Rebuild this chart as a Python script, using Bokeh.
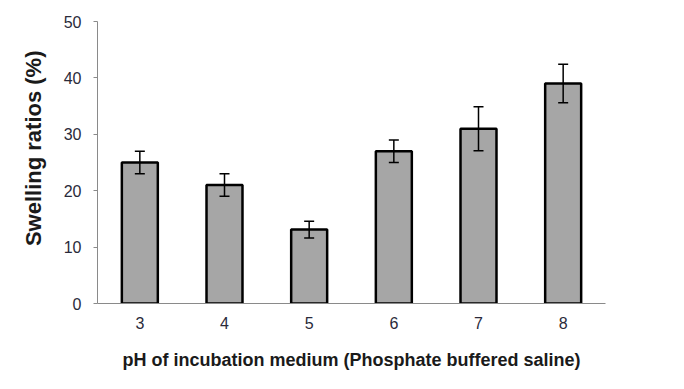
from bokeh.plotting import figure
from bokeh.models import ColumnDataSource, Whisker, TeeHead, Range1d, FixedTicker, Title
from bokeh.embed import file_html
from bokeh.resources import INLINE

ph_levels = ["3", "4", "5", "6", "7", "8"]
swelling = [25.0, 21.0, 13.1, 27.0, 31.0, 39.0]
err = [2.0, 2.0, 1.5, 2.0, 3.9, 3.4]
y_ticks = [0, 10, 20, 30, 40, 50]
y_title = "Swelling ratios (%)"
x_title = "pH of incubation medium (Phosphate buffered saline)"

src = ColumnDataSource(dict(
    x=ph_levels,
    top=swelling,
    upper=[v + e for v, e in zip(swelling, err)],
    lower=[v - e for v, e in zip(swelling, err)],
))

p = figure(x_range=ph_levels, y_range=Range1d(0, 50),
           width=668, height=373, output_backend="svg", toolbar_location=None,
           min_border_left=97, min_border_right=63, min_border_top=21, min_border_bottom=70)
p.outline_line_color = None
p.grid.grid_line_color = None
p.background_fill_color = "white"
p.x_range.range_padding = 0

p.vbar(x="x", top="top", width=0.425, source=src, fill_color="#a6a6a6",
       line_color="black", line_width=2.5)

w = Whisker(base="x", upper="upper", lower="lower", source=src,
            line_color="black", line_width=1.5, level="overlay",
            upper_head=TeeHead(size=10, line_color="black", line_width=1.5),
            lower_head=TeeHead(size=10, line_color="black", line_width=1.5))
p.add_layout(w)

font = "Liberation Sans"
p.yaxis.ticker = FixedTicker(ticks=y_ticks)
p.yaxis.minor_tick_line_color = None
p.yaxis.major_tick_out = 4
p.yaxis.major_tick_in = 0
p.yaxis.axis_line_color = "#8a8a8a"
p.yaxis.major_tick_line_color = "#8a8a8a"
p.yaxis.major_label_text_font = font
p.yaxis.major_label_text_font_size = "16px"
p.yaxis.major_label_text_color = "#2a2a3a"
p.yaxis.major_label_standoff = 12

ytitle = Title(text=y_title, align="right", offset=29, standoff=30,
               text_font=font, text_font_style="bold", text_font_size="22px",
               text_color="#1a1a1a")
p.add_layout(ytitle, "left")

p.xaxis.axis_line_color = "#8a8a8a"
p.xaxis.major_tick_line_color = None
p.xaxis.minor_tick_line_color = None
p.xaxis.major_tick_out = 0
p.xaxis.major_tick_in = 0
p.xaxis.major_label_text_font = font
p.xaxis.major_label_text_font_size = "16px"
p.xaxis.major_label_text_color = "#2a2a3a"
p.xaxis.major_label_standoff = 13
p.xaxis.axis_label = x_title
p.xaxis.axis_label_text_font = font
p.xaxis.axis_label_text_font_style = "bold"
p.xaxis.axis_label_text_font_size = "18px"
p.xaxis.axis_label_text_color = "#1a1a1a"
p.xaxis.axis_label_standoff = 18

open("out.html", "w").write(file_html(p, INLINE))
